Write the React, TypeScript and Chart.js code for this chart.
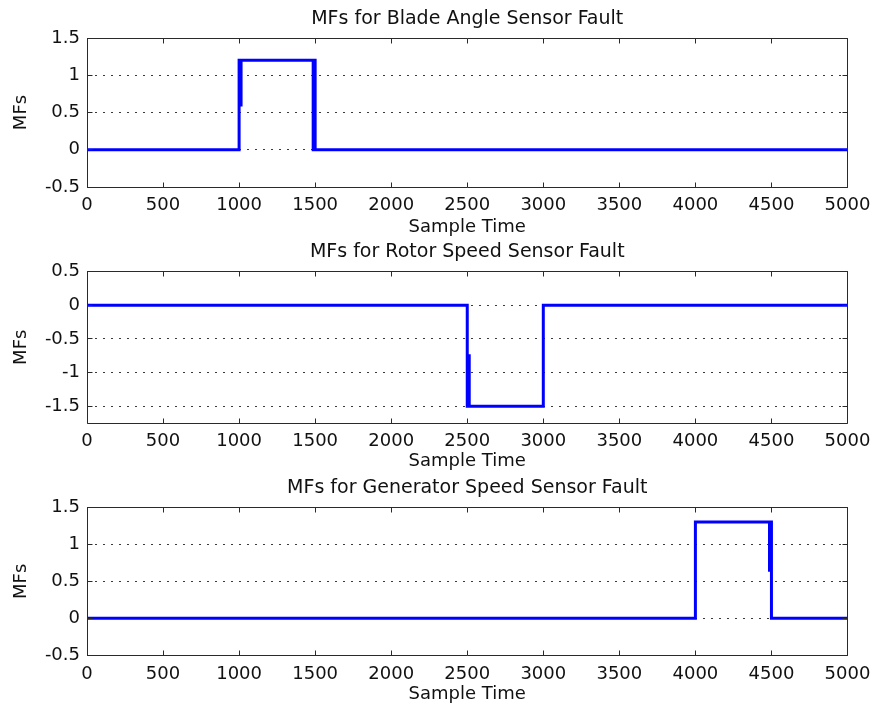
import React, { useEffect, useRef } from "react";
import { Chart, registerables } from "chart.js";

Chart.register(...registerables);

// ---------- data ----------
const xTicks = [0, 500, 1000, 1500, 2000, 2500, 3000, 3500, 4000, 4500, 5000];
const xLabel = "Sample Time";
const yLabel = "MFs";

const bladeTitle = "MFs for Blade Angle Sensor Fault";
const bladeX = [0, 1000, 1000, 1013, 1013, 1000, 1000, 1500, 1500, 1487, 1487, 1500, 1500, 5000];
const bladeY = [0, 0, 1.2, 1.2, 0.6, 0.6, 1.2, 1.2, 0, 0, 1.2, 1.2, 0, 0];
const bladeYTicks = [1.5, 1, 0.5, 0, -0.5];
const bladeYMin = -0.5;
const bladeYMax = 1.5;

const rotorTitle = "MFs for Rotor Speed Sensor Fault";
const rotorX = [0, 2500, 2500, 2513, 2513, 2500, 2500, 3000, 3000, 5000];
const rotorY = [0, 0, -1.5, -1.5, -0.75, -0.75, -1.5, -1.5, 0, 0];
const rotorYTicks = [0.5, 0, -0.5, -1, -1.5];
const rotorYMin = -1.75;
const rotorYMax = 0.5;

const genTitle = "MFs for Generator Speed Sensor Fault";
const genX = [0, 4000, 4000, 4500, 4500, 4487, 4487, 4500, 4500, 5000];
const genY = [0, 0, 1.3, 1.3, 0.65, 0.65, 1.3, 1.3, 0, 0];
const genYTicks = [1.5, 1, 0.5, 0, -0.5];
const genYMin = -0.5;
const genYMax = 1.5;

// ---------- styling ----------
const FAMILY = "'DejaVu Sans', 'Liberation Sans', Arial, sans-serif";
const FONT = { family: FAMILY, size: 18, weight: "normal" as const };
const TITLE_FONT = { family: FAMILY, size: 19, weight: "normal" as const, lineHeight: 1.2 };
const TEXT = "#111";
const W = 871;

const align = (p: number) => Math.round(p - 0.5) + 0.5;

const framePlugin = {
  id: "matlabFrame",
  afterDatasetsDraw(chart: any) {
    const { ctx, chartArea: a, scales } = chart;
    const L = align(a.left);
    const R = align(a.right);
    const T = align(a.top);
    const B = align(a.bottom);
    ctx.save();
    ctx.strokeStyle = "#2a2a2a";
    ctx.lineWidth = 1;
    ctx.setLineDash([]);
    ctx.beginPath();
    ctx.rect(L, T, R - L, B - T);
    const tl = 5;
    for (const t of scales.x.ticks) {
      const px = align(scales.x.getPixelForValue(t.value));
      ctx.moveTo(px, B);
      ctx.lineTo(px, B - tl);
      ctx.moveTo(px, T);
      ctx.lineTo(px, T + tl);
    }
    for (const t of scales.y.ticks) {
      const py = align(scales.y.getPixelForValue(t.value));
      ctx.moveTo(L, py);
      ctx.lineTo(L + tl, py);
      ctx.moveTo(R, py);
      ctx.lineTo(R - tl, py);
    }
    ctx.stroke();
    ctx.restore();
  },
};

type PanelProps = {
  top: number;
  height: number;
  title: string;
  xs: number[];
  ys: number[];
  yTicks: number[];
  yMin: number;
  yMax: number;
  titlePadTop: number;
  titlePadBottom: number;
  xAxisHeight: number;
  xTitlePadBottom: number;
};

function Panel(p: PanelProps) {
  const ref = useRef<HTMLCanvasElement | null>(null);
  useEffect(() => {
    if (!ref.current) return;
    const chart = new Chart(ref.current, {
      type: "line",
      data: {
        datasets: [
          {
            data: p.xs.map((x, i) => ({ x, y: p.ys[i] })),
            borderColor: "#0000ff",
            backgroundColor: "#0000ff",
            borderWidth: 3,
            pointRadius: 0,
            tension: 0,
            fill: false,
            borderJoinStyle: "miter",
            borderCapStyle: "butt",
          },
        ],
      },
      options: {
        responsive: false,
        animation: false,
        events: [],
        layout: { padding: { left: 0, right: 23.5, top: 0, bottom: 0 } },
        plugins: {
          legend: { display: false },
          tooltip: { enabled: false },
          title: {
            display: true,
            text: p.title,
            fullSize: false,
            color: TEXT,
            font: TITLE_FONT,
            padding: { top: p.titlePadTop, bottom: p.titlePadBottom },
          },
        },
        scales: {
          x: {
            type: "linear",
            min: 0,
            max: 5000,
            afterBuildTicks: (s: any) => {
              s.ticks = xTicks.map((v) => ({ value: v }));
            },
            afterFit: (s: any) => {
              s.height = p.xAxisHeight;
              s.paddingLeft = 0;
              s.paddingRight = 0;
            },
            grid: { display: false, drawTicks: false },
            border: { display: false },
            ticks: {
              autoSkip: false,
              maxRotation: 0,
              minRotation: 0,
              padding: 8,
              color: TEXT,
              font: FONT,
              callback: (v: any) => String(v),
            },
            title: {
              display: true,
              text: xLabel,
              color: TEXT,
              font: FONT,
              padding: { top: 0, bottom: p.xTitlePadBottom },
            },
          },
          y: {
            type: "linear",
            min: p.yMin,
            max: p.yMax,
            afterBuildTicks: (s: any) => {
              s.ticks = p.yTicks.map((v) => ({ value: v }));
            },
            afterFit: (s: any) => {
              s.width = 87;
              s.paddingTop = 0;
              s.paddingBottom = 0;
            },
            grid: { display: true, drawTicks: false, color: "#3a3a3a", lineWidth: 1 },
            border: { display: false, dash: [2, 6] },
            ticks: {
              autoSkip: false,
              padding: 7,
              color: TEXT,
              font: FONT,
              callback: (v: any) => String(v),
            },
            title: {
              display: true,
              text: yLabel,
              color: TEXT,
              font: FONT,
              padding: { top: 10.7, bottom: 0 },
            },
          },
        },
      },
      plugins: [framePlugin],
    } as any);
    return () => chart.destroy();
  }, []);
  return (
    <canvas
      ref={ref}
      width={W}
      height={p.height}
      style={{ position: "absolute", left: 0, top: p.top, display: "block", width: W, height: p.height }}
    />
  );
}

export default function App() {
  return (
    <div style={{ position: "absolute", left: 0, top: 0, width: W, height: 708, background: "#fff" }}>
      <Panel
        top={0}
        height={240}
        title={bladeTitle}
        xs={bladeX}
        ys={bladeY}
        yTicks={bladeYTicks}
        yMin={bladeYMin}
        yMax={bladeYMax}
        titlePadTop={7.6}
        titlePadBottom={7.6}
        xAxisHeight={53}
        xTitlePadBottom={2}
      />
      <Panel
        top={240}
        height={236}
        title={rotorTitle}
        xs={rotorX}
        ys={rotorY}
        yTicks={rotorYTicks}
        yMin={rotorYMin}
        yMax={rotorYMax}
        titlePadTop={0.4}
        titlePadBottom={8.3}
        xAxisHeight={53}
        xTitlePadBottom={3.5}
      />
      <Panel
        top={476}
        height={232}
        title={genTitle}
        xs={genX}
        ys={genY}
        yTicks={genYTicks}
        yMin={genYMin}
        yMax={genYMax}
        titlePadTop={0.4}
        titlePadBottom={8.1}
        xAxisHeight={52.7}
        xTitlePadBottom={2.5}
      />
    </div>
  );
}
